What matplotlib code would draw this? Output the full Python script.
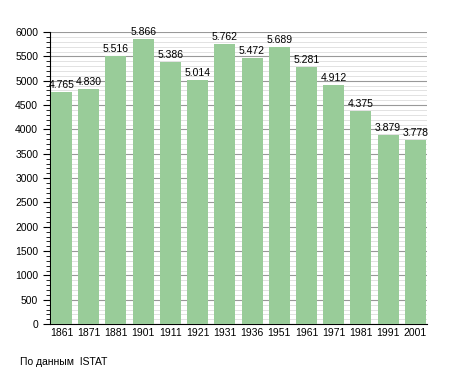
import matplotlib
matplotlib.use("Agg")
import matplotlib.pyplot as plt
from matplotlib.ticker import MultipleLocator

years = ["1861", "1871", "1881", "1901", "1911", "1921", "1931", "1936",
         "1951", "1961", "1971", "1981", "1991", "2001"]
population = [4765, 4830, 5516, 5866, 5386, 5014, 5762, 5472,
              5689, 5281, 4912, 4375, 3879, 3778]

plt.rcParams['font.family'] = ['Liberation Sans', 'DejaVu Sans']

fig = plt.figure(figsize=(4.55, 3.73), dpi=100)
ax = fig.add_axes([0.110, 0.131, 0.828, 0.783])

x = list(range(len(years)))
ax.bar(x, population, width=0.77, color='#99cc99', zorder=3)

for xi, v in zip(x, population):
    s = f"{v:,}".replace(",", ".")
    ax.text(xi, v + 40, s, ha='center', va='bottom', fontsize=7.5, zorder=4)

ax.set_xlim(-0.42, len(years) - 1 + 0.42)
ax.set_ylim(0, 6000)
ax.set_xticks(x)
ax.set_xticklabels(years, fontsize=7.5)
ax.yaxis.set_major_locator(MultipleLocator(500))
ax.yaxis.set_minor_locator(MultipleLocator(100))
ax.tick_params(axis='y', which='major', length=5, labelsize=7.5, width=0.8)
ax.tick_params(axis='y', which='minor', length=3, width=0.6)
ax.tick_params(axis='x', length=0, pad=3)

ax.grid(axis='y', which='major', color='#999999', linewidth=0.8, zorder=0)
ax.grid(axis='y', which='minor', color='#dddddd', linewidth=0.6, zorder=0)
ax.set_axisbelow(True)

for sp in ['top', 'right']:
    ax.spines[sp].set_visible(False)
ax.spines['left'].set_color('black')
ax.spines['bottom'].set_color('black')

fig.text(20 / 455, 1 - 362 / 373, "По данным  ISTAT", fontsize=7.5, va='center', ha='left')

fig.savefig("out.png", dpi=100)
